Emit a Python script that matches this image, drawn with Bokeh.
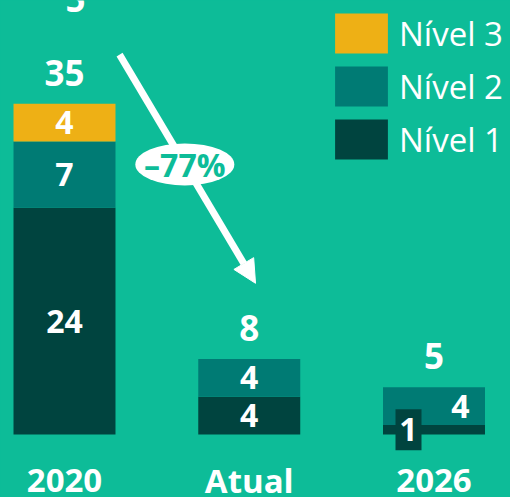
import numpy as np
from bokeh.plotting import figure
from bokeh.models import ColumnDataSource, Legend, LegendItem, Arrow, NormalHead
from bokeh.core.properties import value
from bokeh.embed import file_html
from bokeh.resources import INLINE

# ---- data ----
categories = ["2020", "Atual", "2026"]
levels = ["Nível 1", "Nível 2", "Nível 3"]
nivel1 = [24, 4, 1]
nivel2 = [7, 4, 4]
nivel3 = [4, 0, 0]
change_label = "–77%"
top_fragment = "5"

# ---- style ----
BG = "#0DBC98"
colors = ["#00443F", "#007B74", "#EEB015"]
FONT = "Open Sans"
W, H = 510, 497
xpx0, xstep = 64, 184.75      # pixel position of first category, px per category
ypx0, yscale = 434, 9.45      # pixel row of the zero line, px per unit

x_range = (-xpx0 / xstep, (W - xpx0) / xstep)
y_range = (-(H - ypx0) / yscale, ypx0 / yscale)

p = figure(width=W, height=H, x_range=x_range, y_range=y_range,
           x_axis_type=None, y_axis_type=None, toolbar_location=None,
           output_backend="svg", min_border=0,
           background_fill_color=BG, border_fill_color=BG,
           outline_line_color=None)

xs = list(range(len(categories)))
totals = [a + b + c for a, b, c in zip(nivel1, nivel2, nivel3)]
src = ColumnDataSource(dict(x=xs, n1=nivel1, n2=nivel2, n3=nivel3,
                            total=totals, total_s=[str(t) for t in totals],
                            cat=categories))

bar_w = 0.552
rs = p.vbar_stack(["n1", "n2", "n3"], x="x", width=bar_w, fill_color=colors,
                  line_color=None, source=src)

# segment labels (crowded 2026 bar gets its labels dodged left/right)
dodge = {("2026", 0): -0.138, ("2026", 1): 0.143}
lx, ly, lt, box_x, box_y = [], [], [], [], []
series = [nivel1, nivel2, nivel3]
for i, cat in enumerate(categories):
    base = 0
    for k, s in enumerate(series):
        v = s[i]
        if v > 0:
            x = xs[i] + dodge.get((cat, k), 0)
            y = base + v / 2
            lx.append(x); ly.append(y); lt.append(str(v))
            if (cat, k) in dodge and k == 0:
                box_x.append(x); box_y.append(y)
        base += v

p.rect(x=box_x, y=box_y, width=26, height=41, width_units="screen",
       height_units="screen", fill_color=colors[0], line_color=None)
p.text(x=lx, y=ly, text=lt, text_align="center", text_baseline="middle",
       text_color="white", text_font=value(FONT), text_font_style="bold",
       text_font_size="32px")

# totals
p.text(x="x", y="total", text="total_s", source=src, y_offset=-31,
       text_align="center", text_baseline="middle", text_color="white",
       text_font=value(FONT), text_font_style="bold", text_font_size="35px")

# fragment of a figure cut at the top edge
p.text(x=[xs[0] + 0.06], y=[y_range[1] + 0.2], text=[top_fragment],
       text_align="center", text_baseline="middle", text_color="white",
       text_font=value(FONT), text_font_style="bold", text_font_size="35px")

# category labels
cat_y = -(480 - ypx0) / yscale
p.text(x=xs, y=[cat_y] * len(xs), text=categories, text_align="center",
       text_baseline="middle", text_color="white", text_font=value(FONT),
       text_font_style="bold", text_font_size="33px")

# change arrow
x0, y0 = xs[0] + 0.298, totals[0] + 5.2
x1, y1 = xs[1] + 0.034, totals[1] + 8.0
arrow = Arrow(x_start=x0, y_start=y0, x_end=x1, y_end=y1,
              line_color="white", line_width=7,
              end=NormalHead(size=23, fill_color="white", line_color="white",
                             line_width=1),
              level="underlay")
p.add_layout(arrow)
t = 0.48
ex, ey = x0 + t * (x1 - x0), y0 + t * (y1 - y0)
p.ellipse(x=[ex], y=[ey], width=99, height=42, width_units="screen",
          height_units="screen", fill_color="white", line_color=None)
p.text(x=[ex], y=[ey], text=[change_label], text_align="center",
       text_baseline="middle", text_color=BG, text_font=value(FONT),
       text_font_style="bold", text_font_size="32px")

# legend (vbar legend swatches are inset 10% of the glyph box)
items = [LegendItem(label=levels[k], renderers=[rs[k]]) for k in (2, 1, 0)]
legend = Legend(items=items, location=(328, 333), glyph_width=66,
                glyph_height=50, label_standoff=5, spacing=3, padding=0,
                margin=0, background_fill_alpha=0, border_line_color=None,
                label_text_font=FONT, label_text_font_size="33px",
                label_text_color="white", label_height=50)
p.add_layout(legend)

html = file_html(p, INLINE)
html = html.replace("<head>", "<head><style>body{background:%s;}</style>" % BG, 1)
open("out.html", "w").write(html)
